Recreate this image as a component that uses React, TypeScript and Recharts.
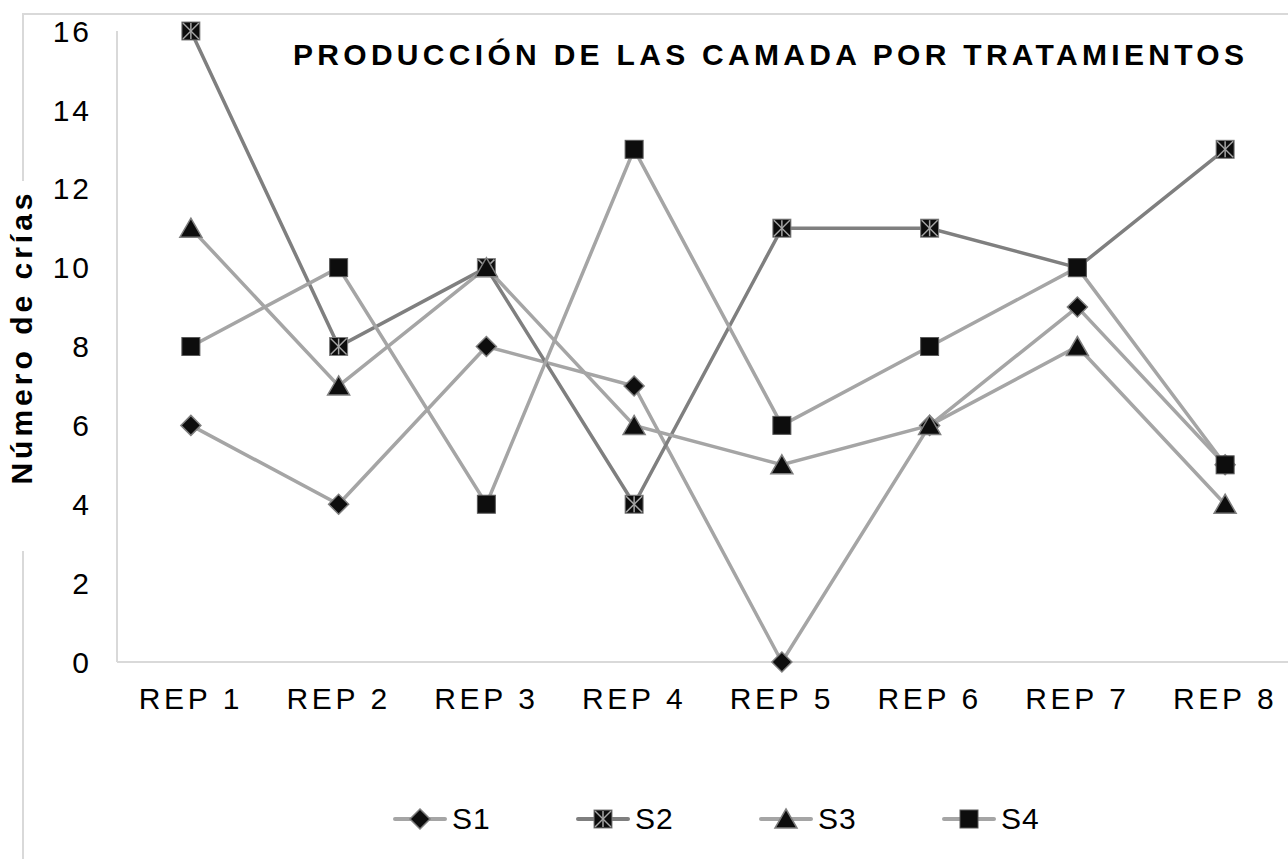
import { Legend, Line, LineChart, XAxis, YAxis } from "recharts"

const reps = ["REP 1", "REP 2", "REP 3", "REP 4", "REP 5", "REP 6", "REP 7", "REP 8"]
const s1 = [6, 4, 8, 7, 0, 6, 9, 5]
const s2 = [16, 8, 10, 4, 11, 11, 10, 13]
const s3 = [11, 7, 10, 6, 5, 6, 8, 4]
const s4 = [8, 10, 4, 13, 6, 8, 10, 5]
const yTicks = [0, 2, 4, 6, 8, 10, 12, 14, 16]
const seriesNames = ["S1", "S2", "S3", "S4"]

const FONT = "'Liberation Sans', Arial, sans-serif"
const LIGHT = "#a5a5a5"
const DARK = "#7f7f7f"
const AXIS = "#d9d9d9"

const chartData = reps.map((rep, i) => ({
  rep,
  S1: s1[i],
  S2: s2[i],
  S3: s3[i],
  S4: s4[i],
}))

const lineColor: Record<string, string> = { S1: LIGHT, S2: DARK, S3: LIGHT, S4: LIGHT }

// marcadores de cada serie
function Marker({ name, cx, cy }: { name: string; cx: number; cy: number }) {
  if (name === "S1") {
    const r = 10
    return (
      <polygon
        points={`${cx},${cy - r} ${cx + r},${cy} ${cx},${cy + r} ${cx - r},${cy}`}
        fill="#0d0d0d"
        stroke={DARK}
        strokeWidth={1.5}
      />
    )
  }
  if (name === "S2") {
    const h = 9
    return (
      <g>
        <rect x={cx - h} y={cy - h} width={h * 2} height={h * 2} fill="#0d0d0d" stroke={DARK} strokeWidth={1} />
        <line x1={cx - h + 1} y1={cy - h + 1} x2={cx + h - 1} y2={cy + h - 1} stroke={LIGHT} strokeWidth={1.5} />
        <line x1={cx + h - 1} y1={cy - h + 1} x2={cx - h + 1} y2={cy + h - 1} stroke={LIGHT} strokeWidth={1.5} />
        <line x1={cx} y1={cy - h + 1} x2={cx} y2={cy + h - 1} stroke={LIGHT} strokeWidth={1.5} />
      </g>
    )
  }
  if (name === "S3") {
    const w = 11
    return (
      <polygon
        points={`${cx},${cy - 10} ${cx + w},${cy + 9} ${cx - w},${cy + 9}`}
        fill="#0d0d0d"
        stroke={DARK}
        strokeWidth={1.5}
      />
    )
  }
  const h = 9
  return <rect x={cx - h} y={cy - h} width={h * 2} height={h * 2} fill="#0d0d0d" stroke="#595959" strokeWidth={1} />
}

const XTick = (props: any) => {
  const { x, y, payload } = props
  return (
    <text x={x} y={y} dy="0.71em" textAnchor="middle" fontSize={30} fill="#000" fontFamily={FONT} letterSpacing={3.6}>
      {payload.value}
    </text>
  )
}

const YTick = (props: any) => {
  const { x, y, payload } = props
  return (
    <text x={x} y={y} dy="0.355em" textAnchor="end" fontSize={30} fill="#000" fontFamily={FONT} letterSpacing={3}>
      {payload.value}
    </text>
  )
}

const renderLegend = () => (
  <div style={{ display: "flex", fontFamily: FONT }}>
    {seriesNames.map((name) => (
      <div key={name} style={{ display: "flex", alignItems: "center", width: 183, height: 30 }}>
        <svg width={54} height={30}>
          <line x1={2} y1={15} x2={52} y2={15} stroke={lineColor[name]} strokeWidth={4} strokeLinecap="round" />
          <Marker name={name} cx={27} cy={15} />
        </svg>
        <span style={{ marginLeft: 5, fontSize: 30, lineHeight: "30px", color: "#000", letterSpacing: 1 }}>{name}</span>
      </div>
    ))}
  </div>
)

export default function App() {
  return (
    <div style={{ position: "absolute", left: 0, top: 0, width: 1288, height: 859, overflow: "hidden", background: "#fff" }}>
      {/* marco del gráfico */}
      <div style={{ position: "absolute", left: 22, top: 13, width: 1266, height: 2, background: AXIS }} />
      <div style={{ position: "absolute", left: 22, top: 13, width: 2, height: 168, background: AXIS }} />
      <div style={{ position: "absolute", left: 22, top: 551, width: 2, height: 308, background: AXIS }} />

      <div
        style={{
          position: "absolute",
          left: 293,
          top: 40,
          fontFamily: FONT,
          fontWeight: "bold",
          fontSize: 30,
          lineHeight: "30px",
          letterSpacing: 4.3,
          color: "#000",
          whiteSpace: "nowrap",
        }}
      >
        PRODUCCIÓN DE LAS CAMADA POR TRATAMIENTOS
      </div>

      <div
        style={{
          position: "absolute",
          left: 22 - 200,
          top: 337 - 15,
          width: 400,
          height: 30,
          textAlign: "center",
          transform: "rotate(-90deg)",
          fontFamily: FONT,
          fontWeight: "bold",
          fontSize: 30,
          lineHeight: "30px",
          letterSpacing: 4,
          color: "#000",
          whiteSpace: "nowrap",
        }}
      >
        Número de crías
      </div>

      <div style={{ position: "absolute", left: 0, top: 0 }}>
        <LineChart width={1300} height={859} data={chartData} margin={{ top: 31, right: 1, left: 0, bottom: 0 }}>
          <XAxis
            dataKey="rep"
            scale="band"
            height={197}
            axisLine={{ stroke: AXIS, strokeWidth: 2 }}
            tickLine={false}
            tickSize={0}
            tickMargin={26}
            tick={<XTick />}
            interval={0}
          />
          <YAxis
            width={117}
            domain={[0, 16]}
            ticks={yTicks}
            axisLine={{ stroke: AXIS, strokeWidth: 2 }}
            tickLine={false}
            tickSize={0}
            tickMargin={25}
            tick={<YTick />}
            interval={0}
          />
          <Legend
            layout="horizontal"
            verticalAlign="middle"
            align="center"
            content={renderLegend}
            wrapperStyle={{ top: 804, left: 393, width: 800, height: 30 }}
          />
          {seriesNames.map((name) => (
            <Line
              key={name}
              type="linear"
              dataKey={name}
              stroke={lineColor[name]}
              strokeWidth={3.5}
              isAnimationActive={false}
              activeDot={false}
              dot={(p: any) => <Marker key={`${name}-${p.index}`} name={name} cx={p.cx} cy={p.cy} />}
            />
          ))}
        </LineChart>
      </div>
    </div>
  )
}
